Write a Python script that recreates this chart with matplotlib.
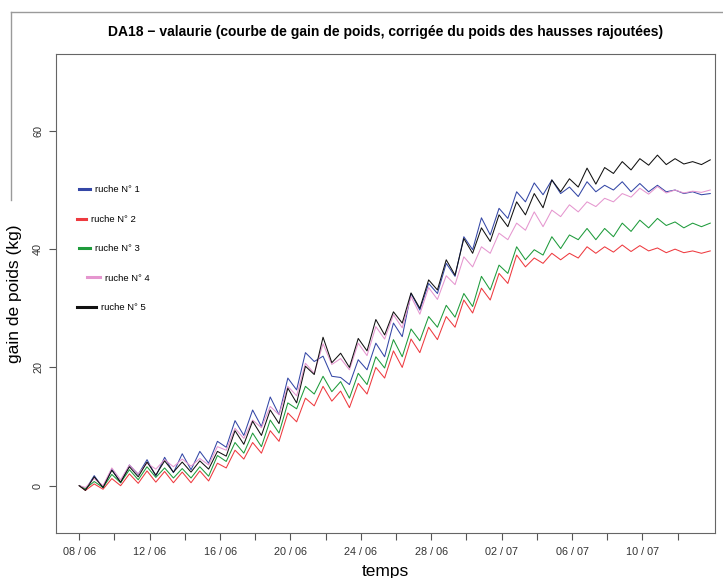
import numpy as np
import matplotlib.pyplot as plt
from matplotlib.lines import Line2D

plt.rcParams['font.family'] = ['Liberation Sans', 'DejaVu Sans']

# jours comptes depuis le 08/06 : creux du matin et pic du soir
heure_creux = 0.35
heure_pic = 0.85

noms = ["ruche N° 1", "ruche N° 2", "ruche N° 3", "ruche N° 4", "ruche N° 5"]
couleurs = ["#3447a6", "#ee3a3f", "#1e9b3b", "#e596cf", "#111111"]

creux_ruche1 = [-0.7, -0.4, 0.5, 1.9, 1.6, 2.2, 2.7, 3.8, 6.5, 8.5, 10.0, 12.0,
                16.2, 21.0, 18.5, 17.1, 19.6, 21.8, 25.2, 29.7, 32.5, 35.4, 39.9, 42.4,
                45.2, 48.0, 49.2, 49.4, 48.9, 49.7, 50.0, 49.7, 49.7, 49.7, 49.4, 49.2]
pics_ruche1 = [1.7, 2.8, 3.5, 4.4, 4.8, 5.4, 5.8, 7.5, 11.0, 12.8, 15.0, 18.2,
               22.5, 21.9, 18.3, 21.3, 24.1, 27.5, 32.5, 34.2, 37.6, 42.1, 45.3, 46.9,
               49.7, 51.2, 51.7, 50.5, 51.4, 50.8, 51.4, 51.1, 50.8, 50.0, 49.7, 49.4]

creux_ruche2 = [-0.8, -0.6, 0.0, 0.4, 0.6, 0.5, 0.5, 0.8, 3.0, 4.5, 5.5, 7.5,
                10.8, 13.5, 14.3, 13.2, 15.5, 18.2, 20.0, 22.5, 24.7, 26.8, 29.2, 31.4,
                34.2, 37.0, 37.6, 38.2, 38.5, 39.3, 39.5, 39.6, 39.7, 39.4, 39.4, 39.3]
pics_ruche2 = [0.3, 1.2, 2.0, 2.5, 2.4, 2.3, 2.5, 3.8, 6.0, 7.3, 9.3, 12.3,
               14.8, 16.8, 16.0, 17.3, 20.0, 22.8, 24.8, 26.8, 28.6, 31.4, 33.4, 35.9,
               39.0, 38.5, 39.3, 39.3, 40.4, 40.4, 40.7, 40.6, 40.2, 40.0, 39.7, 39.7]

creux_ruche3 = [-0.5, -0.3, 0.5, 1.0, 1.4, 1.3, 1.3, 1.6, 4.1, 5.5, 6.6, 8.9,
                13.0, 15.5, 15.9, 14.8, 17.1, 19.9, 21.8, 24.5, 26.8, 28.5, 30.3, 33.1,
                35.9, 38.2, 39.0, 40.1, 41.6, 41.6, 42.1, 43.0, 43.6, 44.0, 43.6, 43.8]
pics_ruche3 = [0.7, 1.9, 2.7, 3.2, 3.0, 2.9, 3.2, 5.1, 7.3, 8.9, 11.1, 14.0,
               16.8, 18.5, 17.6, 19.0, 21.8, 24.7, 26.5, 28.6, 30.5, 32.5, 35.4, 37.3,
               40.4, 39.9, 42.1, 42.4, 43.5, 43.5, 44.4, 44.9, 45.2, 44.6, 44.4, 44.4]

creux_ruche4 = [-0.3, 0.0, 1.0, 2.0, 2.8, 3.2, 3.3, 3.5, 6.0, 8.0, 9.8, 12.0,
                15.2, 19.0, 20.5, 19.6, 22.0, 24.8, 26.7, 29.0, 31.5, 34.0, 37.0, 39.3,
                41.6, 43.2, 43.8, 45.5, 46.3, 47.2, 48.0, 48.8, 49.3, 49.5, 49.5, 49.6]
pics_ruche4 = [1.2, 3.0, 3.5, 3.8, 4.4, 4.5, 4.6, 6.6, 9.7, 11.1, 13.4, 16.8,
               20.7, 24.0, 21.5, 24.1, 26.9, 28.9, 32.0, 33.5, 35.5, 38.7, 40.4, 42.7,
               44.4, 46.3, 46.6, 47.5, 48.0, 48.6, 49.4, 50.3, 50.6, 50.0, 49.8, 50.0]

creux_ruche5 = [-0.8, -0.3, 0.6, 1.5, 1.8, 2.3, 2.3, 2.8, 5.0, 7.0, 8.5, 10.5,
                14.0, 18.8, 20.8, 20.0, 22.8, 25.5, 27.5, 30.0, 33.1, 35.6, 39.3, 41.3,
                43.8, 45.8, 47.0, 49.7, 50.5, 51.0, 52.8, 53.4, 54.2, 54.3, 54.4, 54.3]
pics_ruche5 = [1.5, 2.6, 3.2, 4.0, 4.2, 4.0, 4.2, 5.8, 9.3, 10.9, 12.8, 16.5,
               20.2, 25.1, 22.4, 24.9, 28.1, 29.4, 32.6, 34.8, 38.2, 41.8, 43.6, 45.8,
               48.0, 49.4, 51.7, 51.9, 53.7, 53.8, 54.8, 55.3, 55.9, 55.3, 54.8, 55.1]

graduations_x = list(range(0, 36, 2))
etiquettes_x = ["08 / 06", "", "12 / 06", "", "16 / 06", "", "20 / 06", "",
                "24 / 06", "", "28 / 06", "", "02 / 07", "", "06 / 07", "",
                "10 / 07", ""]
graduations_y = [0, 20, 40, 60]

# position (fraction des axes) et longueur du trait de chaque legende
legende_x = [0.035, 0.032, 0.035, 0.048, 0.033]
legende_y = [0.717, 0.654, 0.594, 0.532, 0.471]
legende_trait = [1.2, 1.0, 1.2, 1.4, 2.0]


def courbe(creux, pics):
    t = [0.0]
    v = [0.0]
    for jour, (c, p) in enumerate(zip(creux, pics)):
        t += [jour + heure_creux, jour + heure_pic]
        v += [c, p]
    return np.array(t), np.array(v)


series = [(creux_ruche1, pics_ruche1), (creux_ruche2, pics_ruche2),
          (creux_ruche3, pics_ruche3), (creux_ruche4, pics_ruche4),
          (creux_ruche5, pics_ruche5)]

fig = plt.figure(figsize=(7.23, 5.78), dpi=100)
ax = fig.add_axes([55.5 / 723, 45 / 578, 659.5 / 723, 479 / 578])

for (creux, pics), couleur in zip(series, couleurs):
    t, v = courbe(creux, pics)
    ax.plot(t, v, color=couleur, lw=0.75)

ax.set_xlim(-1.35, 36.12)
ax.set_ylim(-8, 73)
ax.set_xticks(graduations_x)
ax.set_xticklabels(etiquettes_x)
ax.set_yticks(graduations_y)
ax.tick_params(direction='out', length=5, width=0.8, color='#555555',
               labelsize=7.8, labelcolor='#333333')
ax.tick_params(axis='x', pad=5)
ax.tick_params(axis='y', pad=4)
plt.setp(ax.get_yticklabels(), rotation=90, va='center')
for spine in ax.spines.values():
    spine.set_color('#666666')
    spine.set_linewidth(0.8)

ax.set_xlabel("temps", fontsize=12.5, labelpad=5)
ax.set_ylabel("gain de poids (kg)", fontsize=12.5, labelpad=8)
ax.set_title("DA18 \u2212 valaurie (courbe de gain de poids, corrigée du poids des hausses rajoutées)",
             fontsize=10, fontweight='bold', pad=13)

# legendes placees une a une
for i in range(5):
    trait = Line2D([], [], color=couleurs[i], lw=2.2)
    leg = ax.legend([trait], [noms[i]], loc='center left',
                    bbox_to_anchor=(legende_x[i], legende_y[i]), frameon=False,
                    fontsize=6.8, handlelength=legende_trait[i], handletextpad=0.5,
                    borderaxespad=0, borderpad=0)
    ax.add_artist(leg)
ax.legend_ = None

# cadre gris de la capture
fig.add_artist(Line2D([11 / 723, 11 / 723], [1 - 200 / 578, 1 - 12 / 578], color='#9a9a9a', lw=1))
fig.add_artist(Line2D([11 / 723, 1], [1 - 12 / 578, 1 - 12 / 578], color='#9a9a9a', lw=1))

fig.savefig("out.png", dpi=100)
